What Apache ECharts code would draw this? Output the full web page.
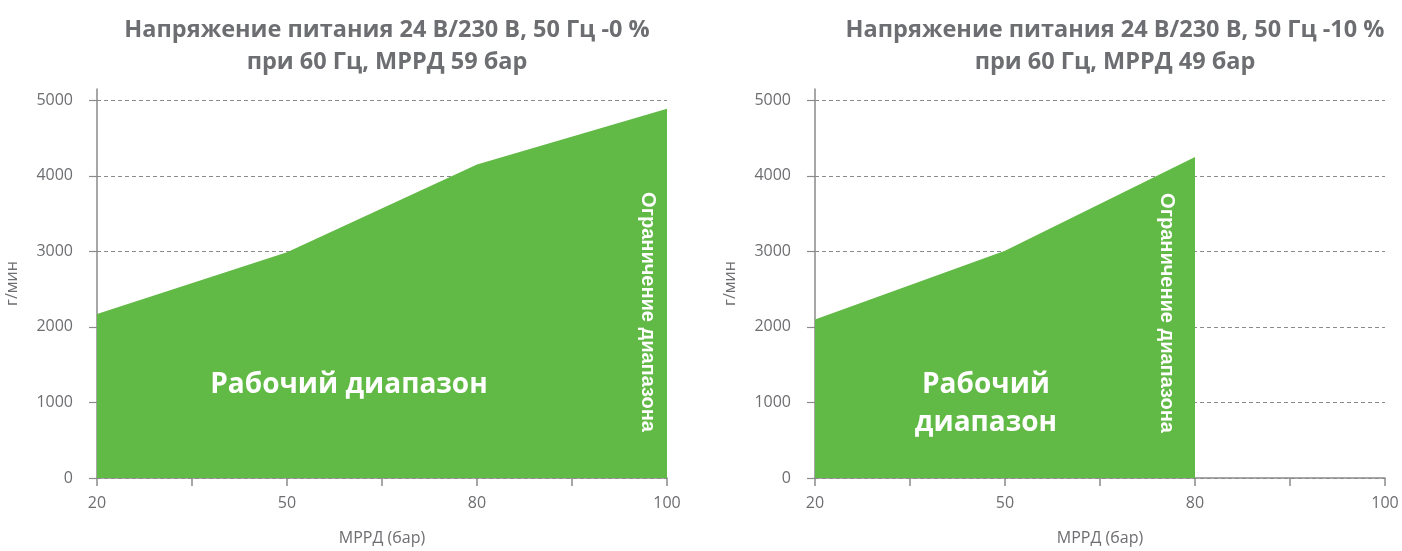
<!DOCTYPE html>
<html>
<head>
<meta charset="utf-8">
<style>
  html, body { margin: 0; padding: 0; background: #ffffff; }
  #chart { width: 1402px; height: 551px; }
</style>
<script src="https://cdn.jsdelivr.net/npm/echarts@6/dist/echarts.min.js"></script>
</head>
<body>
<div id="chart"></div>
<script>
// Tick positions along the MPRD axis (evenly spaced, only some labelled)
const xTickLabels = ['20', '', '50', '', '80', '', '100'];
const yTickValues = [0, 1000, 2000, 3000, 4000, 5000];

// Operating envelope, 24 V/230 V, 50 Hz -0 %
const mprdLeft = ['20', '50', '80', '100'];
const flowLeft = [2170, 2990, 4150, 4890];

// Operating envelope, 24 V/230 V, 50 Hz -10 %
const mprdRight = ['20', '50', '80'];
const flowRight = [2100, 3010, 4250];

const titleLeft = 'Напряжение питания 24 В/230 В, 50 Гц -0 %\nпри 60 Гц, МРРД 59 бар';
const titleRight = 'Напряжение питания 24 В/230 В, 50 Гц -10 %\nпри 60 Гц, МРРД 49 бар';

const GREEN = '#62ba46';
const TEXT = '#6d6e71';
const AXIS = '#8a8a8a';

function toPairs(xs, ys) {
  return xs.map((x, i) => [xTickLabels.indexOf(x), ys[i]]);
}

function xAxisFor(gridIndex) {
  return {
    type: 'value', gridIndex,
    min: 0, max: xTickLabels.length - 1, interval: 1,
    name: 'МРРД (бар)', nameLocation: 'middle', nameGap: 52,
    nameTextStyle: { color: TEXT, fontSize: 16, fontFamily: 'Open Sans' },
    axisLine: { show: true, lineStyle: { color: AXIS, width: 1.5 } },
    axisTick: { show: true, length: 8, lineStyle: { color: AXIS, width: 1.5 } },
    axisLabel: {
      color: TEXT, fontSize: 16, fontFamily: 'Open Sans', margin: 17,
      formatter: v => xTickLabels[Math.round(v)] || ''
    },
    splitLine: { show: false }
  };
}

function yAxisFor(gridIndex) {
  return {
    type: 'value', gridIndex,
    min: 0, max: 5150,
    name: 'г/мин', nameLocation: 'middle', nameGap: 77,
    nameTextStyle: { color: TEXT, fontSize: 16, fontFamily: 'Open Sans' },
    axisLine: { show: true, lineStyle: { color: AXIS, width: 1.5 } },
    axisTick: {
      show: true, inside: false, length: 8, customValues: yTickValues,
      lineStyle: { color: AXIS, width: 1.2, type: 'solid' }
    },
    axisLabel: {
      color: TEXT, fontSize: 16, fontFamily: 'Open Sans', margin: 24,
      customValues: yTickValues,
      formatter: v => String(v)
    },
    splitLine: { show: true, lineStyle: { color: AXIS, width: 1, type: [4, 3] } }
  };
}

function areaSeries(idx, data) {
  return {
    type: 'line', xAxisIndex: idx, yAxisIndex: idx,
    data, symbol: 'none', silent: true,
    lineStyle: { width: 0, color: GREEN },
    areaStyle: { color: GREEN, opacity: 1 },
    z: 2
  };
}

const chart = echarts.init(document.getElementById('chart'), null, { renderer: 'canvas' });

const titleStyle = { color: TEXT, fontSize: 23.5, fontWeight: 'bold', fontFamily: 'Open Sans', lineHeight: 32 };

chart.setOption({
  animation: false,
  backgroundColor: '#ffffff',
  title: [
    { text: titleLeft, left: 382, top: 9, textAlign: 'center', textStyle: titleStyle },
    { text: titleRight, left: 1110, top: 9, textAlign: 'center', textStyle: titleStyle }
  ],
  grid: [
    { left: 97, top: 89, width: 570, height: 392 },
    { left: 815, top: 89, width: 570, height: 392 }
  ],
  xAxis: [xAxisFor(0), xAxisFor(1)],
  yAxis: [yAxisFor(0), yAxisFor(1)],
  series: [
    areaSeries(0, toPairs(mprdLeft, flowLeft)),
    areaSeries(1, toPairs(mprdRight, flowRight))
  ],
  graphic: [
    {
      type: 'text', x: 349, y: 385, z: 10,
      style: { text: 'Рабочий диапазон', fill: '#ffffff', font: 'bold 28px "Open Sans"', align: 'center', verticalAlign: 'middle' }
    },
    {
      type: 'text', x: 986, y: 404, z: 10,
      style: { text: 'Рабочий\nдиапазон', fill: '#ffffff', font: 'bold 28px "Open Sans"', lineHeight: 38, align: 'center', verticalAlign: 'middle' }
    },
    {
      type: 'text', x: 648, y: 312, rotation: -Math.PI / 2, z: 10,
      style: { text: 'Ограничение диапазона', fill: '#ffffff', font: 'bold 20px "Liberation Sans"', align: 'center', verticalAlign: 'middle' }
    },
    {
      type: 'text', x: 1167, y: 313, rotation: -Math.PI / 2, z: 10,
      style: { text: 'Ограничение диапазона', fill: '#ffffff', font: 'bold 20px "Liberation Sans"', align: 'center', verticalAlign: 'middle' }
    }
  ]
});
</script>
</body>
</html>
